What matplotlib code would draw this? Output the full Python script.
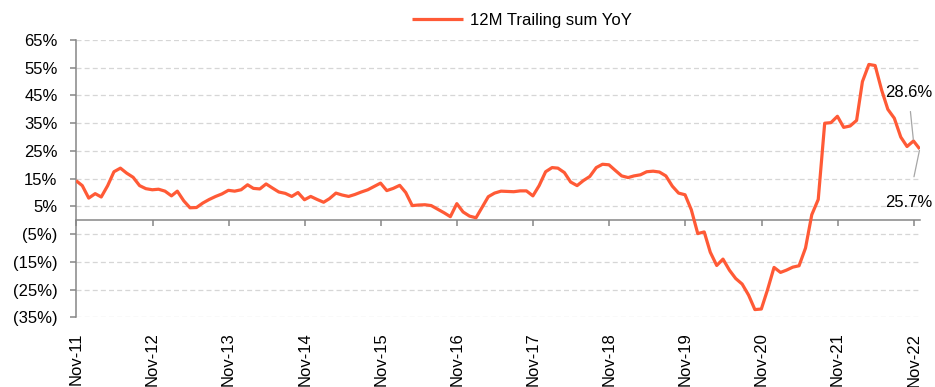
import numpy as np
import matplotlib
matplotlib.use('Agg')
import matplotlib.pyplot as plt
import matplotlib.dates as mdates
from matplotlib.ticker import FuncFormatter, MultipleLocator

plt.rcParams['font.family'] = ['Liberation Sans', 'DejaVu Sans']
plt.rcParams['font.size'] = 12

# month-end dates, Oct-11 .. Nov-22
dates = np.arange('2011-11', '2023-01', dtype='datetime64[M]').astype('datetime64[D]') - 1

# 12M trailing sum, YoY change (%)
yoy = [
    14.3, 12.5, 8.0, 9.6, 8.4, 12.5, 17.5, 18.8, 17.0, 15.5, 12.5, 11.4,
    11.0, 11.2, 10.5, 8.8, 10.5, 7.0, 4.5, 4.6, 6.2, 7.5, 8.6, 9.5,
    10.8, 10.5, 11.0, 12.8, 11.5, 11.3, 13.1, 11.6, 10.2, 9.7, 8.6, 10.0,
    7.4, 8.6, 7.5, 6.5, 7.8, 9.8, 9.1, 8.6, 9.3, 10.2, 11.0, 12.2,
    13.4, 10.7, 11.5, 12.6, 10.0, 5.3, 5.5, 5.6, 5.3, 4.0, 2.7, 1.3,
    6.0, 3.0, 1.5, 0.9, 4.5, 8.5, 9.8, 10.5, 10.4, 10.3, 10.6, 10.6,
    8.8, 12.5, 17.5, 19.0, 18.8, 17.2, 13.8, 12.5, 14.3, 15.8, 19.0, 20.2,
    20.0, 18.0, 16.0, 15.4, 16.0, 16.4, 17.5, 17.7, 17.4, 16.0, 12.3, 9.8,
    9.2, 3.8, -4.8, -4.2, -11.5, -16.3, -14.0, -18.0, -21.0, -23.0, -27.0, -32.2,
    -32.0, -25.0, -17.0, -18.8, -18.0, -16.9, -16.4, -10.0, 2.0, 7.5, 35.0, 35.2,
    37.5, 33.5, 34.0, 36.0, 50.0, 56.2, 55.8, 47.0, 40.0, 36.8, 30.0, 26.6,
    28.6, 25.7,
]

series_name = '12M Trailing sum YoY'
line_color = '#FF5A36'
axis_gray = '#868686'

fig = plt.figure(figsize=(9.35, 3.87), dpi=100)
ax = fig.add_axes([0.0813, 0.180, 0.9026, 0.7166])

ax.plot(dates, yoy, color=line_color, lw=2.3, solid_joinstyle='round',
        solid_capstyle='butt', label=series_name, zorder=3)

# y axis: -35% .. 65%, negatives in brackets
ax.set_ylim(-35, 65)
ax.yaxis.set_major_locator(MultipleLocator(10))
ax.set_yticks(np.arange(-35, 66, 10))
ax.yaxis.set_major_formatter(FuncFormatter(
    lambda v, p: f'{v:.0f}%' if v >= 0 else f'({-v:.0f}%)'))
ax.grid(axis='y', color='#D6D6D6', lw=0.9, linestyle=(0, (4, 2.5)))
ax.set_axisbelow(True)

ax.set_xlim(dates[0], np.datetime64('2022-12-01'))
ax.xaxis.set_major_locator(mdates.YearLocator(month=11, day=1))
ax.xaxis.set_major_formatter(mdates.DateFormatter('%b-%y'))
ax.tick_params(axis='x', length=0, pad=11, labelrotation=90)
ax.tick_params(axis='y', length=4.3, width=1.1, color=axis_gray, pad=9)

for s in ['top', 'right', 'bottom']:
    ax.spines[s].set_visible(False)
ax.spines['left'].set_color(axis_gray)
ax.spines['left'].set_linewidth(1.1)

# zero line carries the year ticks
zero_pos = (0 - ax.get_ylim()[0]) / (ax.get_ylim()[1] - ax.get_ylim()[0])
sec = ax.secondary_xaxis(zero_pos)
sec.set_alignment('bottom')
sec.xaxis.set_major_locator(mdates.YearLocator(month=11, day=1))
sec.tick_params(axis='x', direction='out', length=4.5, width=1.1,
                color=axis_gray, labelbottom=False, labeltop=False)
sec.spines['bottom'].set_color(axis_gray)
sec.spines['bottom'].set_linewidth(1.1)

# last two readings
ax.annotate(f'{yoy[-2]:.1f}%', xy=(dates[-2], yoy[-2]), xytext=(-5, 48),
            textcoords='offset pixels', ha='center', va='center',
            annotation_clip=False,
            arrowprops=dict(arrowstyle='-', color='#A6A6A6', lw=0.9,
                            shrinkA=6, shrinkB=1))
ax.annotate(f'{yoy[-1]:.1f}%', xy=(dates[-1], yoy[-1]), xytext=(-11, -53),
            textcoords='offset pixels', ha='center', va='center',
            annotation_clip=False,
            arrowprops=dict(arrowstyle='-', color='#A6A6A6', lw=0.9,
                            shrinkA=11, shrinkB=1))

ax.legend(loc='center', bbox_to_anchor=(0.558, 0.948),
          bbox_transform=fig.transFigure, frameon=False,
          handlelength=3.1, handletextpad=0.4, fontsize=12)

fig.savefig('out.png', dpi=100)
